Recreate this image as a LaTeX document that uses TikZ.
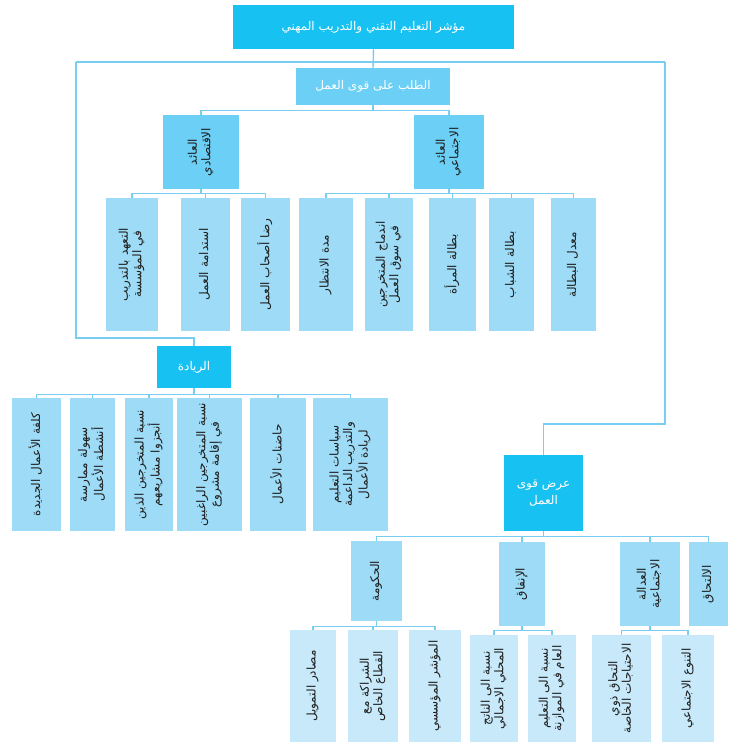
\documentclass[tikz,border=0pt]{standalone}
\usepackage{fontspec}
\newfontfamily\arabicfont[Script=Arabic]{DejaVu Sans}
\TeXXeTstate=1
\definecolor{MainCyan}{RGB}{23,194,242}
\definecolor{MidBlue}{RGB}{108,207,245}
\definecolor{LeafBlue}{RGB}{157,219,246}
\definecolor{PaleBlue}{RGB}{199,233,249}
\definecolor{LineBlue}{RGB}{120,206,240}
\definecolor{TextDark}{RGB}{30,30,30}
\newcommand\ar[1]{\beginR#1\endR}
\newcommand\vtext[1]{\rotatebox{90}{\begin{tabular}{@{}c@{}}#1\end{tabular}}}
\tikzset{
  boxbase/.style={rectangle,inner sep=0pt,align=center,
    font=\arabicfont\fontsize{12}{13.5}\selectfont},
  headbox/.style={boxbase,fill=MainCyan,text=white},
  midbox/.style={boxbase,fill=MidBlue,text=white},
  groupbox/.style={boxbase,fill=MidBlue,text=TextDark},
  leafbox/.style={boxbase,fill=LeafBlue,text=TextDark},
  subleaf/.style={boxbase,fill=PaleBlue,text=TextDark},
  wh/.style 2 args={minimum width=#1,minimum height=#2},
  link/.style={draw=LineBlue,line width=1.4pt}
}
\begin{document}
\begin{tikzpicture}[x=1pt,y=-1pt]
  \useasboundingbox (0,0) rectangle (728,744);
  % top levels
  \node[headbox,wh={281}{44}] (top) at (373.5,27) {\ar{مؤشر التعليم التقني والتدريب المهني}};
  \node[midbox,wh={154}{37}] (demand) at (373,86.5) {\ar{الطلب على قوى العمل}};
  \node[groupbox,wh={76}{74}] (eco) at (201,152) {\vtext{\ar{العائد}\\\ar{الاقتصادي}}};
  \node[groupbox,wh={70}{74}] (soc) at (449,152) {\vtext{\ar{العائد}\\\ar{الاجتماعي}}};
  % economic return
  \node[leafbox,wh={52}{133}] (e1) at (132,264.5) {\vtext{\ar{التعهد بالتدريب}\\\ar{في المؤسسة}}};
  \node[leafbox,wh={49}{133}] (e2) at (205.5,264.5) {\vtext{\ar{استدامة العمل}}};
  \node[leafbox,wh={49}{133}] (e3) at (265.5,264.5) {\vtext{\ar{رضا أصحاب العمل}}};
  % social return
  \node[leafbox,wh={54}{133}] (s1) at (326,264.5) {\vtext{\ar{مدة الانتظار}}};
  \node[leafbox,wh={48}{133}] (s2) at (389,264.5) {\vtext{\ar{اندماج المتخرجين}\\\ar{في سوق العمل}}};
  \node[leafbox,wh={47}{133}] (s3) at (452.5,264.5) {\vtext{\ar{بطالة المرأة}}};
  \node[leafbox,wh={45}{133}] (s4) at (511.5,264.5) {\vtext{\ar{بطالة الشباب}}};
  \node[leafbox,wh={45}{133}] (s5) at (573.5,264.5) {\vtext{\ar{معدل البطالة}}};
  % entrepreneurship
  \node[headbox,wh={74}{42}] (riyada) at (194,367) {\ar{الريادة}};
  \node[leafbox,wh={49}{133}] (r1) at (36.5,464.5) {\vtext{\ar{كلفة الأعمال الجديدة}}};
  \node[leafbox,wh={45}{133}] (r2) at (92.5,464.5) {\vtext{\ar{سهولة ممارسة}\\\ar{أنشطة الأعمال}}};
  \node[leafbox,wh={48}{133}] (r3) at (149,464.5) {\vtext{\ar{نسبة المتخرجين الذين}\\\ar{أنجزوا مشاريعهم}}};
  \node[leafbox,wh={65}{133}] (r4) at (209.5,464.5) {\vtext{\ar{نسبة المتخرجين الراغبين}\\\ar{في إقامة مشروع}}};
  \node[leafbox,wh={56}{133}] (r5) at (278,464.5) {\vtext{\ar{حاضنات الأعمال}}};
  \node[leafbox,wh={75}{133}] (r6) at (350.5,464.5) {\vtext{\ar{سياسات التعليم}\\\ar{والتدريب الداعمة}\\\ar{لريادة الأعمال}}};
  % labour supply
  \node[headbox,wh={79}{76}] (supply) at (543.5,493) {\ar{عرض قوى}\\[4pt]\ar{العمل}};
  \node[leafbox,wh={51}{80}] (gov) at (376.5,581) {\vtext{\ar{الحكومة}}};
  \node[leafbox,wh={46}{84}] (spend) at (522,584) {\vtext{\ar{الإنفاق}}};
  \node[leafbox,wh={60}{84}] (just) at (650,584) {\vtext{\ar{العدالة}\\\ar{الاجتماعية}}};
  \node[leafbox,wh={39}{84}] (enrol) at (708.5,584) {\vtext{\ar{الالتحاق}}};
  \node[subleaf,wh={46}{112}] (g1) at (313,686) {\vtext{\ar{مصادر التمويل}}};
  \node[subleaf,wh={50}{112}] (g2) at (373,686) {\vtext{\ar{الشراكة مع}\\\ar{القطاع الخاص}}};
  \node[subleaf,wh={52}{112}] (g3) at (435,686) {\vtext{\ar{المؤشر المؤسسي}}};
  \node[subleaf,wh={48}{107}] (p1) at (494,688.5) {\vtext{\ar{نسبة الى الناتج}\\\ar{المحلي الاجمالي}}};
  \node[subleaf,wh={48}{107}] (p2) at (552,688.5) {\vtext{\ar{نسبة الى التعليم}\\\ar{العام في الموازنة}}};
  \node[subleaf,wh={59}{107}] (j1) at (621.5,688.5) {\vtext{\ar{التحاق ذوي}\\\ar{الاحتياجات الخاصة}}};
  \node[subleaf,wh={52}{107}] (j2) at (688,688.5) {\vtext{\ar{التنوع الاجتماعي}}};

  % connectors
  \coordinate (busL) at (76,62);
  \coordinate (busR) at (665,62);
  \draw[link] (top.south) -- (demand.north);
  \draw[link] (busL) -- (busR);
  \draw[link] (riyada.north) -- ++(0,-8) -| (busL);
  \draw[link] (supply.north) -- ++(0,-31) -| (busR);
  \foreach \c in {eco,soc}
    \draw[link] (demand.south) -- ++(0,5) -| (\c.north);
  \foreach \c in {e1,e2,e3}
    \draw[link] (eco.south) -- ++(0,4) -| (\c.north);
  \foreach \c in {s1,s2,s3,s4,s5}
    \draw[link] (soc.south) -- ++(0,4) -| (\c.north);
  \foreach \c in {r1,r2,r3,r4,r5,r6}
    \draw[link] (riyada.south) -- ++(0,6) -| (\c.north);
  \foreach \c in {gov,spend,just,enrol}
    \draw[link] (supply.south) -- ++(0,5) -| (\c.north);
  \foreach \c in {g1,g2,g3}
    \draw[link] (gov.south) -- ++(0,5) -| (\c.north);
  \foreach \c in {p1,p2}
    \draw[link] (spend.south) -- ++(0,4) -| (\c.north);
  \foreach \c in {j1,j2}
    \draw[link] (just.south) -- ++(0,4) -| (\c.north);
\end{tikzpicture}
\end{document}
